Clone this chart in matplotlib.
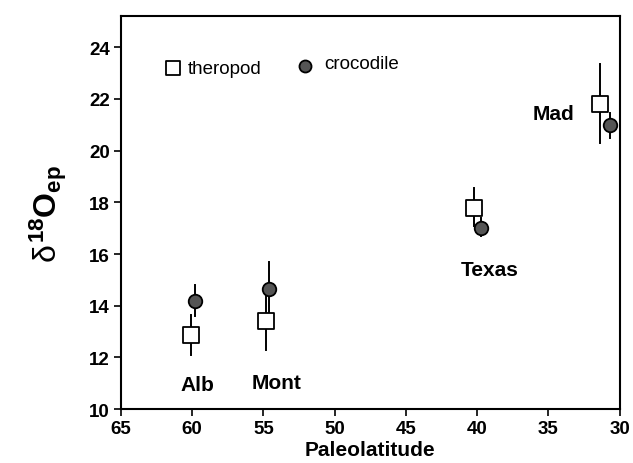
import matplotlib
matplotlib.use("Agg")
import matplotlib.pyplot as plt

plt.rcParams['font.family'] = ['Liberation Sans', 'DejaVu Sans']
plt.rcParams['mathtext.fontset'] = 'custom'
plt.rcParams['mathtext.rm'] = 'Liberation Sans'
plt.rcParams['mathtext.bf'] = 'Liberation Sans:bold'
plt.rcParams['mathtext.it'] = 'Liberation Sans'

sites = ["Alb", "Mont", "Texas", "Mad"]
thero_lat = [60.1, 54.8, 40.2, 31.4]
thero_d18 = [12.85, 13.4, 17.8, 21.8]
thero_lo = [12.1, 12.3, 17.1, 20.3]
thero_hi = [13.65, 14.4, 18.55, 23.35]
croc_lat = [59.8, 54.6, 39.7, 30.7]
croc_d18 = [14.2, 14.65, 17.0, 21.0]
croc_lo = [13.6, 13.5, 16.7, 20.5]
croc_hi = [14.8, 15.7, 17.4, 21.45]
label_lat = [59.6, 54.1, 39.1, 34.65]
label_d18 = [10.96, 11.04, 15.4, 21.45]
xticks = [65, 60, 55, 50, 45, 40, 35, 30]
yticks = [10, 12, 14, 16, 18, 20, 22, 24]

fig = plt.figure(figsize=(6.33, 4.64), dpi=100)
ax = fig.add_axes([0.191, 0.116, 0.788, 0.847])

for x, y, lo, hi in zip(thero_lat, thero_d18, thero_lo, thero_hi):
    ax.plot([x, x], [lo, hi], color='black', lw=1.4, zorder=2)
for x, y, lo, hi in zip(croc_lat, croc_d18, croc_lo, croc_hi):
    ax.plot([x, x], [lo, hi], color='black', lw=1.4, zorder=2)

ax.scatter(thero_lat, thero_d18, marker='s', s=120, facecolor='white',
           edgecolor='black', linewidth=1.3, zorder=3, clip_on=False)
ax.scatter(croc_lat, croc_d18, marker='o', s=95, facecolor='#555555',
           edgecolor='black', linewidth=1.3, zorder=4, clip_on=False)

for name, x, y in zip(sites, label_lat, label_d18):
    ax.text(x, y, name, ha='center', va='center', fontsize=15, fontweight='bold')

# legend
ax.scatter([61.36], [23.19], marker='s', s=100, facecolor='white', edgecolor='black', linewidth=1.3)
ax.text(60.3, 23.19, "theropod", ha='left', va='center', fontsize=13.5)
ax.scatter([52.06], [23.27], marker='o', s=75, facecolor='#555555', edgecolor='black', linewidth=1.3)
ax.text(50.7, 23.38, "crocodile", ha='left', va='center', fontsize=13.5)

ax.set_xlim(65, 30)
ax.set_ylim(10, 25.2)
ax.set_xticks(xticks)
ax.set_yticks(yticks)
ax.set_xticklabels([str(t) for t in xticks], fontsize=13.5, fontweight='bold')
ax.set_yticklabels([str(t) for t in yticks], fontsize=13.5, fontweight='bold')
ax.tick_params(direction='out', length=5, width=1.2, pad=3)
for s in ax.spines.values():
    s.set_linewidth(1.5)

ax.set_xlabel("Paleolatitude", fontsize=15, fontweight='bold', labelpad=2)
ax.set_ylabel(r'$\delta^{\mathbf{18}}\mathbf{O}_{\mathbf{ep}}$', fontsize=23, labelpad=14)

fig.savefig("out.png", dpi=100)
